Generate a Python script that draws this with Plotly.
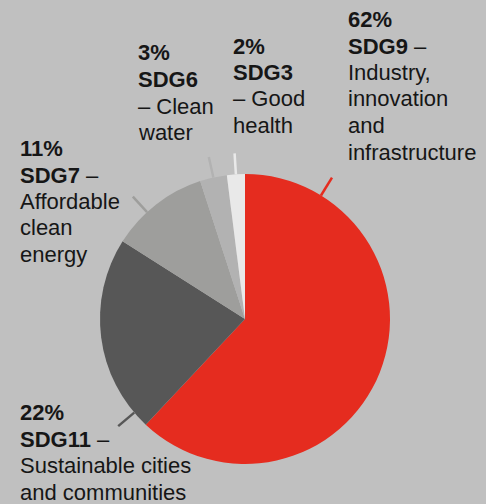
import math
import plotly.graph_objects as go

# ---- data ----
labels = ["SDG9", "SDG11", "SDG7", "SDG6", "SDG3"]
values = [62, 22, 11, 3, 2]
pct_text = ["62%", "22%", "11%", "3%", "2%"]
head_suffix = [" –", " –", " –", "", ""]
desc_lines = [
    ["Industry,", "innovation", "and", "infrastructure"],
    ["Sustainable cities", "and communities"],
    ["Affordable", "clean", "energy"],
    ["– Clean", "water"],
    ["– Good", "health"],
]

# ---- style / layout ----
colors = ["#e52c1f", "#575757", "#9e9e9c", "#b2b2b2", "#e9e9e9"]
bg = "#c0c0c0"
W, H = 486, 504
cx, cy, R = 245, 319, 145
tick_angles = [31.6, -130.2, -42.5, None, None]   # None -> slice midpoint
tick_r0, tick_r1 = 145, 166
label_x = [347, 19, 19, 137, 232]
label_y = [19.5, 412.5, 148.5, 53, 46]
line_step = 26.5
FONT = "Liberation Sans"
FS = 22
TXT = "#161616"

fig = go.Figure(go.Pie(
    labels=labels, values=values, sort=False, direction="clockwise", rotation=0,
    marker=dict(colors=colors, line=dict(width=0)),
    textinfo="none", hoverinfo="label+percent", showlegend=False,
    domain=dict(x=[(cx - R) / W, (cx + R) / W], y=[(H - cy - R) / H, (H - cy + R) / H]),
))

total = sum(values)
cum = 0
shapes = []
for i, v in enumerate(values):
    mid = (cum + v / 2) / total * 360
    cum += v
    a = tick_angles[i] if tick_angles[i] is not None else mid
    ar = math.radians(a)
    x0 = cx + tick_r0 * math.sin(ar); y0 = cy - tick_r0 * math.cos(ar)
    x1 = cx + tick_r1 * math.sin(ar); y1 = cy - tick_r1 * math.cos(ar)
    shapes.append(dict(type="line", xref="paper", yref="paper",
                       x0=x0 / W, y0=1 - y0 / H, x1=x1 / W, y1=1 - y1 / H,
                       line=dict(color=colors[i], width=2.5)))

annotations = []
for i in range(len(values)):
    lines = ["<b>%s</b>" % pct_text[i], "<b>%s</b>%s" % (labels[i], head_suffix[i])] + desc_lines[i]
    for j, t in enumerate(lines):
        annotations.append(dict(
            text=t, xref="paper", yref="paper", x=label_x[i] / W,
            y=1 - (label_y[i] + j * line_step) / H,
            xanchor="left", yanchor="middle", showarrow=False, borderpad=0,
            font=dict(family=FONT, size=FS, color=TXT)))

fig.update_layout(
    width=W, height=H, margin=dict(l=0, r=0, t=0, b=0),
    paper_bgcolor=bg, plot_bgcolor=bg,
    shapes=shapes, annotations=annotations,
)
fig.write_html("out.html", config={"displayModeBar": False},
               post_script="document.body.style.margin='0';document.body.style.overflow='hidden';")
